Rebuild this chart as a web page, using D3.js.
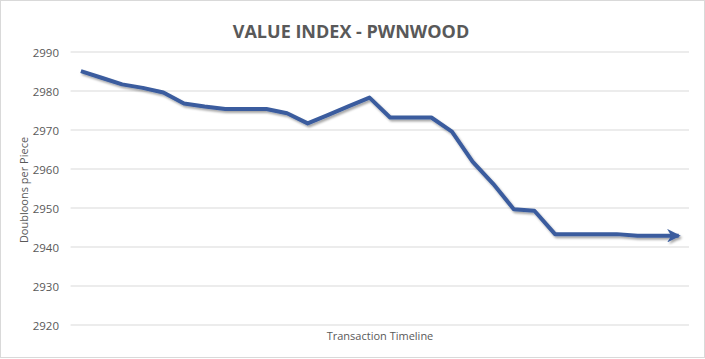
<!DOCTYPE html>
<html><head><meta charset="utf-8">
<script src="https://cdn.jsdelivr.net/npm/d3@7/dist/d3.min.js"></script>
<style>body{margin:0;background:#fff;}svg{display:block;font-family:"Open Sans",sans-serif;}</style>
</head><body>
<script>
const title = "VALUE INDEX - PWNWOOD";
const yTitle = "Doubloons per Piece";
const xTitle = "Transaction Timeline";
const yTicks = [2920, 2930, 2940, 2950, 2960, 2970, 2980, 2990];
const points = d3.range(1, 31);
const values = [2985.1, 2983.4, 2981.7, 2980.8, 2979.6, 2976.8, 2976.0, 2975.4, 2975.4, 2975.4,
  2974.3, 2971.7, 2973.9, 2976.1, 2978.3, 2973.2, 2973.2, 2973.2, 2969.6, 2961.9,
  2956.2, 2949.7, 2949.3, 2943.3, 2943.3, 2943.3, 2943.3, 2942.9, 2942.9, 2942.9];

const W = 705, H = 359;
const svg = d3.select("body").append("svg").attr("width", W).attr("height", H);
svg.append("rect").attr("x", 0.5).attr("y", 0.5).attr("width", W - 1).attr("height", H - 2)
  .attr("fill", "#fff").attr("stroke", "#d9d9d9");

const defs = svg.append("defs");
const f = defs.append("filter").attr("id", "sh").attr("x", "-5%").attr("y", "-20%").attr("width", "110%").attr("height", "140%");
f.append("feDropShadow").attr("dx", 1.5).attr("dy", 2).attr("stdDeviation", 1.2).attr("flood-color", "#000").attr("flood-opacity", 0.35);
defs.append("marker").attr("id", "arr").attr("viewBox", "0 0 10 10").attr("refX", 8.5).attr("refY", 5)
  .attr("markerWidth", 3.4).attr("markerHeight", 3.4).attr("orient", "auto")
  .append("path").attr("d", "M0,0 L10,5 L0,10 L3,5 Z").attr("fill", "#3a5c9e");

const x = d3.scaleBand().domain(points).range([70.6, 689]);
const y = d3.scaleLinear().domain([2920, 2990]).range([325, 52]);

const g = svg.append("g");
g.selectAll("line.grid").data(yTicks).join("line").attr("class", "grid")
  .attr("x1", 70.6).attr("x2", 689).attr("y1", d => y(d)).attr("y2", d => y(d))
  .attr("stroke", "#d9d9d9").attr("stroke-width", 1);

const yAxis = d3.axisLeft(y).tickValues(yTicks).tickSize(0).tickPadding(0).tickFormat(d3.format("d"));
const ya = svg.append("g").attr("transform", "translate(59,0)").call(yAxis);
ya.select(".domain").remove();
ya.selectAll("text").attr("fill", "#595959").style("font-size", "11.5px").style("font-family", "Open Sans").attr("dy", "0.35em");

svg.append("text").attr("x", 351).attr("y", 38).attr("text-anchor", "middle")
  .attr("fill", "#595959").style("font-size", "18px").style("font-weight", "bold").text(title);
svg.append("text").attr("transform", "translate(28,190) rotate(-90)").attr("text-anchor", "middle")
  .attr("fill", "#595959").style("font-size", "11px").text(yTitle);
svg.append("text").attr("x", 380).attr("y", 340).attr("text-anchor", "middle")
  .attr("fill", "#595959").style("font-size", "11px").text(xTitle);

const line = d3.line().x((d, i) => x(points[i]) + x.bandwidth() / 2).y(d => y(d));
svg.append("path").datum(values).attr("d", line).attr("fill", "none")
  .attr("stroke", "#3a5c9e").attr("stroke-width", 4).attr("stroke-linejoin", "round")
  .attr("filter", "url(#sh)").attr("marker-end", "url(#arr)");
</script>
</body></html>
